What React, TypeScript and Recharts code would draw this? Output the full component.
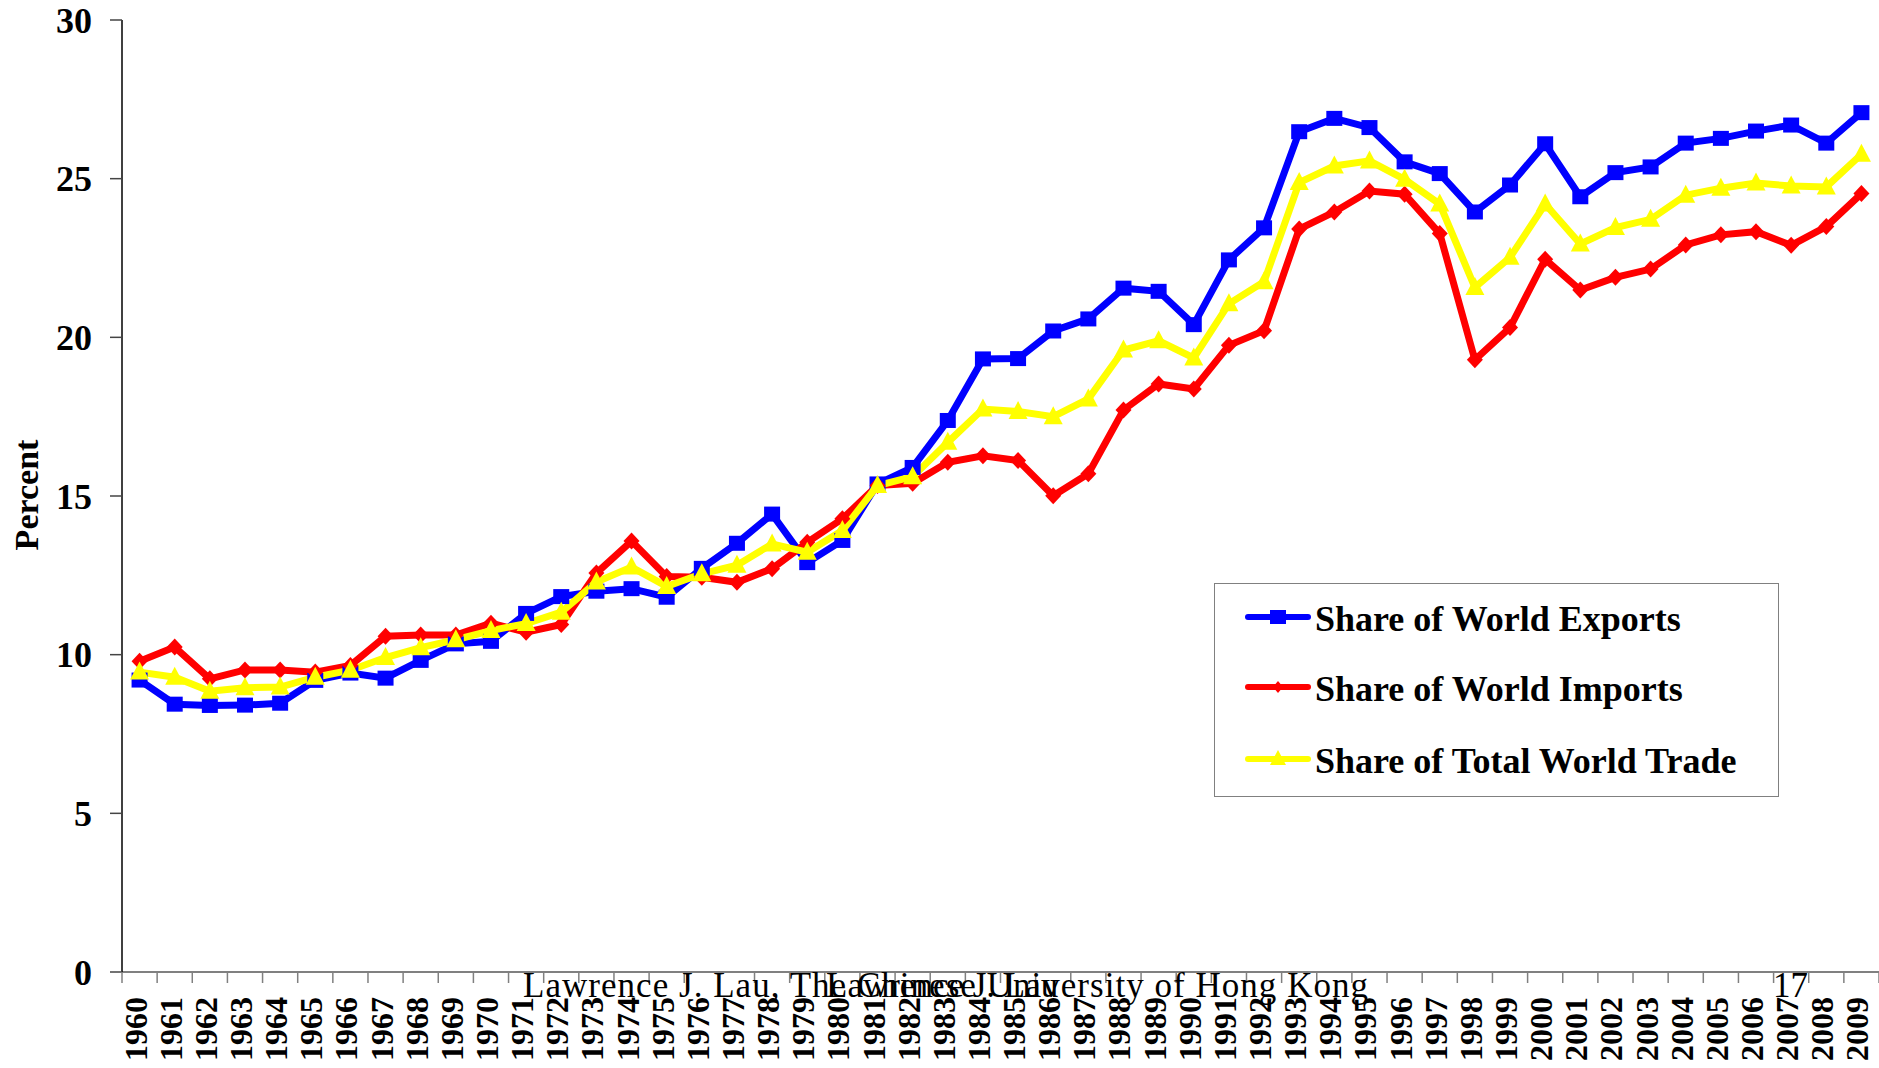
import React from 'react';
import { LineChart, Line, XAxis, YAxis, Legend } from 'recharts';

const years: string[] = [
  '1960','1961','1962','1963','1964','1965','1966','1967','1968','1969',
  '1970','1971','1972','1973','1974','1975','1976','1977','1978','1979',
  '1980','1981','1982','1983','1984','1985','1986','1987','1988','1989',
  '1990','1991','1992','1993','1994','1995','1996','1997','1998','1999',
  '2000','2001','2002','2003','2004','2005','2006','2007','2008','2009',
];

const exportsShare: number[] = [
  9.2, 8.44, 8.4, 8.41, 8.47, 9.19, 9.42, 9.26, 9.82, 10.34,
  10.42, 11.3, 11.83, 12.0, 12.08, 11.81, 12.72, 13.51, 14.43, 12.9,
  13.6, 15.38, 15.9, 17.38, 19.32, 19.33, 20.2, 20.58, 21.55, 21.45,
  20.4, 22.44, 23.45, 26.48, 26.9, 26.61, 25.53, 25.16, 23.95, 24.8,
  26.1, 24.43, 25.19, 25.37, 26.12, 26.27, 26.5, 26.69, 26.12, 27.08,
];

const importsShare: number[] = [
  9.79, 10.24, 9.24, 9.52, 9.52, 9.45, 9.66, 10.58, 10.62, 10.62,
  10.99, 10.71, 10.95, 12.57, 13.58, 12.46, 12.44, 12.28, 12.71, 13.54,
  14.28, 15.33, 15.4, 16.06, 16.27, 16.12, 15.01, 15.7, 17.71, 18.53,
  18.37, 19.75, 20.21, 23.41, 23.95, 24.61, 24.51, 23.27, 19.29, 20.31,
  22.46, 21.49, 21.89, 22.15, 22.91, 23.23, 23.33, 22.9, 23.49, 24.53,
];

const totalShare: number[] = [
  9.45, 9.29, 8.85, 8.96, 8.98, 9.29, 9.51, 9.91, 10.22, 10.47,
  10.76, 10.98, 11.34, 12.29, 12.76, 12.15, 12.55, 12.82, 13.49, 13.23,
  13.91, 15.33, 15.61, 16.69, 17.74, 17.66, 17.5, 18.06, 19.6, 19.89,
  19.35, 21.06, 21.75, 24.88, 25.4, 25.56, 24.98, 24.2, 21.57, 22.52,
  24.2, 22.94, 23.46, 23.72, 24.48, 24.7, 24.86, 24.77, 24.74, 25.77,
];

const yTicks: number[] = [0, 5, 10, 15, 20, 25, 30];
const seriesNames: string[] = ['Share of World Exports', 'Share of World Imports', 'Share of Total World Trade'];
const yAxisTitle = 'Percent';
const footerMain = 'Lawrence J. Lau, The Chinese University of Hong Kong';
const footerName = 'Lawrence J. Lau';
const pageNumber = '17';

const data = years.map((y, i) => ({
  year: y,
  exp: exportsShare[i],
  imp: importsShare[i],
  tot: totalShare[i],
}));

const W = 1879;
const H = 1068;
const LEFT = 122;
const TOP = 20;
const XAXIS_H = 96;
const BAND = (W - LEFT) / years.length;
const FONT = '"Liberation Serif", "Times New Roman", serif';

const BLUE = '#0000FF';
const RED = '#FF0000';
const YELLOW = '#FFFF00';
const seriesColors: string[] = [BLUE, RED, YELLOW];

const SquareDot = (props: any) => {
  const { cx, cy, index } = props;
  if (cx == null || cy == null) return <g key={`s-${index}`} />;
  return <rect key={`s-${index}`} x={cx - 8} y={cy - 7.5} width={16} height={15} fill={BLUE} />;
};
const DiamondDot = (props: any) => {
  const { cx, cy, index } = props;
  if (cx == null || cy == null) return <g key={`d-${index}`} />;
  return (
    <polygon
      key={`d-${index}`}
      points={`${cx},${cy - 8.5} ${cx + 8},${cy} ${cx},${cy + 8.5} ${cx - 8},${cy}`}
      fill={RED}
    />
  );
};
const TriangleDot = (props: any) => {
  const { cx, cy, index } = props;
  if (cx == null || cy == null) return <g key={`t-${index}`} />;
  return (
    <polygon
      key={`t-${index}`}
      points={`${cx},${cy - 10.5} ${cx + 9.5},${cy + 7.5} ${cx - 9.5},${cy + 7.5}`}
      fill={YELLOW}
    />
  );
};

const XTick = (props: any) => {
  const { x, y, payload, index } = props;
  const last = index === years.length - 1;
  const tx = x - 4;
  const ty = y + 25;
  return (
    <g>
      <line x1={x - BAND / 2} y1={y} x2={x - BAND / 2} y2={y + 11} stroke="#808080" strokeWidth={1.5} />
      {last && (
        <line x1={x + BAND / 2} y1={y} x2={x + BAND / 2} y2={y + 11} stroke="#808080" strokeWidth={1.5} />
      )}
      <text
        x={tx}
        y={ty}
        transform={`rotate(-90 ${tx} ${ty})`}
        textAnchor="end"
        dominantBaseline="central"
        fontFamily={FONT}
        fontWeight="bold"
        fontSize={32}
        fill="#000"
      >
        {payload.value}
      </text>
    </g>
  );
};

const renderLegend = (props: any) => {
  const payload = (props.payload || []) as any[];
  const rowYs = [34, 104, 176];
  const rows = seriesNames.map((name, i) => {
    const found = payload.find((p: any) => p.value === name);
    return { name, color: (found && found.color) || seriesColors[i] };
  });
  return (
    <div
      style={{
        width: 565,
        height: 214,
        border: '1.5px solid #808080',
        boxSizing: 'border-box',
        background: '#fff',
      }}
    >
      <svg width={562} height={211} style={{ display: 'block' }}>
        {rows.map((p, i) => {
          const cy = rowYs[i] - 1;
          const cx = 63;
          let marker: React.ReactNode = null;
          if (i === 0) marker = <rect x={cx - 8} y={cy - 7} width={16} height={14} fill={p.color} />;
          if (i === 1)
            marker = <polygon points={`${cx},${cy - 6} ${cx + 5},${cy} ${cx},${cy + 6} ${cx - 5},${cy}`} fill={p.color} />;
          if (i === 2)
            marker = <polygon points={`${cx},${cy - 9} ${cx + 8},${cy + 6} ${cx - 8},${cy + 6}`} fill={p.color} />;
          return (
            <g key={`lg-${i}`}>
              <line x1={33} y1={cy} x2={93} y2={cy} stroke={p.color} strokeWidth={6} strokeLinecap="round" />
              {marker}
              <text x={100} y={cy + 14} fontFamily={FONT} fontWeight="bold" fontSize={36} fill="#000">
                {p.name}
              </text>
            </g>
          );
        })}
      </svg>
    </div>
  );
};

export default function App() {
  return (
    <div style={{ position: 'absolute', left: 0, top: 0, width: W, height: H, background: '#fff' }}>
      <LineChart
        width={W}
        height={H}
        data={data}
        margin={{ top: TOP, right: 0, left: 0, bottom: 0 }}
      >
        <XAxis
          dataKey="year"
          height={XAXIS_H}
          interval={0}
          padding={{ left: BAND / 2, right: BAND / 2 }}
          tickSize={0}
          tickMargin={0}
          tickLine={false}
          axisLine={{ stroke: '#808080', strokeWidth: 2 }}
          tick={<XTick />}
        />
        <YAxis
          width={LEFT}
          domain={[0, 30]}
          ticks={yTicks}
          interval={0}
          tickSize={12}
          tickMargin={18}
          axisLine={{ stroke: '#000', strokeWidth: 1.5 }}
          tickLine={{ stroke: '#444', strokeWidth: 1.5 }}
          tick={{ fontFamily: FONT, fontWeight: 'bold', fontSize: 36, fill: '#000' }}
        />
        <Legend
          layout="vertical"
          align="center"
          verticalAlign="middle"
          content={renderLegend}
          wrapperStyle={{ left: 1214, top: 583, width: 565, height: 214 }}
        />
        <Line
          type="linear"
          dataKey="exp"
          name={seriesNames[0]}
          stroke={BLUE}
          strokeWidth={7}
          dot={SquareDot}
          activeDot={false}
          isAnimationActive={false}
        />
        <Line
          type="linear"
          dataKey="imp"
          name={seriesNames[1]}
          stroke={RED}
          strokeWidth={7}
          dot={DiamondDot}
          activeDot={false}
          isAnimationActive={false}
        />
        <Line
          type="linear"
          dataKey="tot"
          name={seriesNames[2]}
          stroke={YELLOW}
          strokeWidth={7}
          dot={TriangleDot}
          activeDot={false}
          isAnimationActive={false}
        />
      </LineChart>
      <svg
        width={W}
        height={H}
        style={{ position: 'absolute', left: 0, top: 0, pointerEvents: 'none' }}
      >
        <text
          x={26}
          y={495}
          transform="rotate(-90 26 495)"
          textAnchor="middle"
          dominantBaseline="central"
          fontFamily={FONT}
          fontWeight="bold"
          fontSize={34}
          fill="#000"
        >
          {yAxisTitle}
        </text>
        <text x={523} y={997} fontFamily={FONT} fontSize={35} fill="#000" textLength={845} lengthAdjust="spacing">
          {footerMain}
        </text>
        <text x={826} y={997} fontFamily={FONT} fontSize={35} fill="#000">
          {footerName}
        </text>
        <text x={1773} y={997} fontFamily={FONT} fontSize={35} fill="#000">
          {pageNumber}
        </text>
      </svg>
    </div>
  );
}
